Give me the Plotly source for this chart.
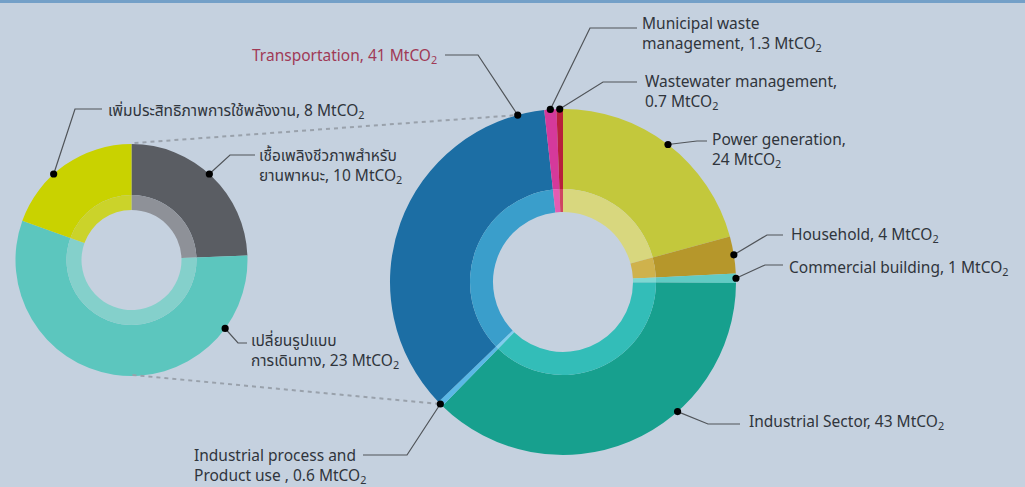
import math
import plotly.graph_objects as go

W, H = 1025, 487

# Emission sources (MtCO2), clockwise from 12 o'clock
sectors = ["Power generation", "Household", "Commercial building", "Industrial Sector",
           "Industrial process and Product use", "Transportation",
           "Municipal waste management", "Wastewater management"]
emissions = [24, 4, 1, 43, 0.6, 41, 1.3, 0.7]

# Transport reduction measures (MtCO2), clockwise from 12 o'clock
measures = ["เชื้อเพลิงชีวภาพสำหรับยานพาหนะ", "เปลี่ยนรูปแบบการเดินทาง", "เพิ่มประสิทธิภาพการใช้พลังงาน"]
reductions = [10, 23, 8]

sector_colors = ["#C3C83C", "#B6972B", "#62CBC4", "#17A08E", "#5AB8E6", "#1C6EA4", "#D5399B", "#B8203C"]
sector_inner = ["#D8D77E", "#CFB24C", "#7ED8D2", "#33BDB8", "#7FCDEE", "#3A9ECB", "#E35CB3", "#CF4462"]
measure_colors = ["#5A5D63", "#5CC6BE", "#C9D200"]
measure_inner = ["#8E9198", "#84D0CB", "#CBD32A"]

BG = "#C5D1DF"
TXT = "#30353C"
LINE = "#505459"
FONT = "Noto Sans, Noto Sans Thai, Loma, Garuda, Tlwg Typo, sans-serif"
FS = 15.5

# donut geometry in pixels: centre, outer radius, light-ring radius, hole radius
BIG = dict(cx=563, cy=282, r=173, ring=93, hole=70)
SMALL = dict(cx=131.5, cy=260, r=116, ring=65, hole=50)


def domain(g, r):
    return dict(x=[(g["cx"] - r) / W, (g["cx"] + r) / W],
                y=[1 - (g["cy"] + r) / H, 1 - (g["cy"] - r) / H])


def donut(values, names, outer, inner, g):
    return [
        go.Pie(values=values, labels=names, sort=False, direction="clockwise", rotation=0,
               domain=domain(g, g["r"]), hole=g["ring"] / g["r"],
               marker=dict(colors=outer, line=dict(width=0)),
               textinfo="none", hoverinfo="label+value", showlegend=False),
        go.Pie(values=values, labels=names, sort=False, direction="clockwise", rotation=0,
               domain=domain(g, g["ring"]), hole=g["hole"] / g["ring"],
               marker=dict(colors=inner, line=dict(width=0)),
               textinfo="none", hoverinfo="label+value", showlegend=False),
    ]


def edge_point(values, idx, frac, g):
    """Point on the outer rim, `frac` of the way through slice idx."""
    total = sum(values)
    start = sum(values[:idx]) / total * 360
    ang = math.radians(start + frac * values[idx] / total * 360)
    return g["cx"] + g["r"] * math.sin(ang), g["cy"] - g["r"] * math.cos(ang)


fig = go.Figure()
for t in donut(emissions, sectors, sector_colors, sector_inner, BIG):
    fig.add_trace(t)
for t in donut(reductions, measures, measure_colors, measure_inner, SMALL):
    fig.add_trace(t)

shapes = []
annotations = []

# top accent band
shapes.append(dict(type="rect", xref="x", yref="y", x0=0, x1=W, y0=0, y1=3,
                   fillcolor="#74A0C8", line=dict(width=0), layer="above"))


def callout(values, idx, frac, g, elbow, end, label, anchor="left", color=TXT):
    px, py = edge_point(values, idx, frac, g)
    shapes.append(dict(type="path", xref="x", yref="y", layer="above",
                       path=f"M {px:.1f} {py:.1f} L {elbow[0]} {elbow[1]} L {end[0]} {end[1]}",
                       line=dict(color=LINE, width=1.2)))
    shapes.append(dict(type="circle", xref="x", yref="y", layer="above",
                       x0=px - 3.6, x1=px + 3.6, y0=py - 3.6, y1=py + 3.6,
                       fillcolor="#000000", line=dict(width=0)))
    tx, ty, text = label
    annotations.append(dict(x=tx, y=ty, xref="x", yref="y", text=text, showarrow=False,
                            xanchor=anchor, yanchor="middle", align=anchor,
                            font=dict(family=FONT, size=FS, color=color)))
    return px, py


CO2 = "MtCO<sub>2</sub>"

# callouts on the sector donut
tr = callout(emissions, 5, 0.93, BIG, (478, 55), (445, 55),
             (439, 55, "Transportation, 41 " + CO2), anchor="right", color="#A03A56")
callout(emissions, 6, 0.5, BIG, (590, 28), (637, 28),
        (640, 33, "Municipal waste<br>management, 1.3 " + CO2))
callout(emissions, 7, 0.5, BIG, (603, 82), (637, 82),
        (643, 91, "Wastewater management,<br>0.7 " + CO2))
callout(emissions, 0, 0.5, BIG, (697, 141), (707, 141),
        (710, 149, "Power generation,<br>24 " + CO2))
callout(emissions, 1, 0.5, BIG, (767, 235), (783, 235),
        (789, 234, "Household, 4 " + CO2))
callout(emissions, 2, 0.5, BIG, (765, 265), (783, 265),
        (787, 267, "Commercial building, 1 " + CO2))
callout(emissions, 3, 0.36, BIG, (708, 424), (740, 424),
        (747, 421, "Industrial Sector, 43 " + CO2))
ip = callout(emissions, 4, 0.5, BIG, (407, 455), (363, 455),
             (192, 465, "Industrial process and<br>Product use , 0.6 " + CO2))

# callouts on the measures donut
callout(reductions, 2, 0.4, SMALL, (75, 109), (102, 109),
        (106, 110, "เพิ่มประสิทธิภาพการใช้พลังงาน, 8 " + CO2))
callout(reductions, 0, 0.48, SMALL, (230, 155), (255, 155),
        (257, 165, "เชื้อเพลิงชีวภาพสำหรับ<br>ยานพาหนะ, 10 " + CO2))
callout(reductions, 1, 0.19, SMALL, (238, 343), (247, 343),
        (249, 350, "เปลี่ยนรูปแบบ<br>การเดินทาง, 23 " + CO2))

# dashed connectors: measures donut -> transportation slice
top = (SMALL["cx"] + 3, SMALL["cy"] - SMALL["r"] - 1)
bottom = (SMALL["cx"] + 1, SMALL["cy"] + SMALL["r"] - 1)
for a, b in [(top, tr), (bottom, ip)]:
    shapes.insert(1, dict(type="line", xref="x", yref="y", layer="above",
                          x0=a[0], y0=a[1], x1=b[0], y1=b[1],
                          line=dict(color="#99A1AB", width=2, dash="4px,4px")))

fig.update_layout(
    width=W, height=H,
    margin=dict(l=0, r=0, t=0, b=0),
    paper_bgcolor=BG, plot_bgcolor=BG,
    xaxis=dict(range=[0, W], visible=False, fixedrange=True),
    yaxis=dict(range=[H, 0], visible=False, fixedrange=True),
    shapes=shapes, annotations=annotations,
    font=dict(family=FONT),
)

fig.write_html("out.html")
